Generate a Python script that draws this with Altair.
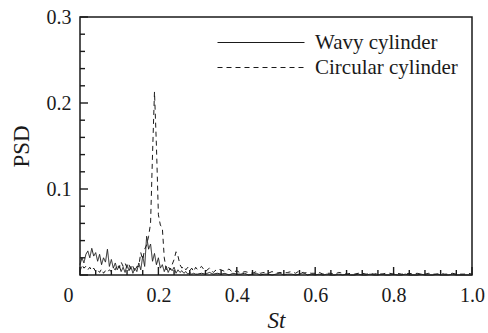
import altair as alt
import pandas as pd

# Strouhal number grid (frequency axis)
st_fine = [0.000, 0.005, 0.010, 0.015, 0.020, 0.025, 0.030, 0.035, 0.040, 0.045,
           0.050, 0.055, 0.060, 0.065, 0.070, 0.075, 0.080, 0.085, 0.090, 0.095,
           0.100, 0.105, 0.110, 0.115, 0.120, 0.125, 0.130, 0.135, 0.140, 0.145,
           0.150, 0.155, 0.160, 0.165, 0.170, 0.175, 0.180, 0.185, 0.190, 0.195,
           0.200, 0.205, 0.210, 0.215, 0.220, 0.225, 0.230, 0.235, 0.240, 0.245,
           0.250, 0.255, 0.260, 0.265, 0.270, 0.275, 0.280, 0.285, 0.290, 0.295,
           0.300]
st_coarse = [0.31, 0.32, 0.33, 0.34, 0.35, 0.36, 0.37, 0.38, 0.39, 0.40,
             0.41, 0.42, 0.43, 0.44, 0.45, 0.46, 0.47, 0.48, 0.49, 0.50,
             0.51, 0.52, 0.53, 0.54, 0.55, 0.56, 0.57, 0.58, 0.59, 0.60,
             0.61, 0.62, 0.63, 0.64, 0.65, 0.66, 0.67, 0.68, 0.69, 0.70,
             0.71, 0.72, 0.73, 0.74, 0.75, 0.76, 0.77, 0.78, 0.79, 0.80,
             0.81, 0.82, 0.83, 0.84, 0.85, 0.86, 0.87, 0.88, 0.89, 0.90,
             0.91, 0.92, 0.93, 0.94, 0.95, 0.96, 0.97, 0.98, 0.99, 1.00]

wavy_fine = [0.012, 0.020, 0.014, 0.024, 0.028, 0.020, 0.031, 0.022, 0.026, 0.016,
             0.024, 0.012, 0.020, 0.015, 0.030, 0.010, 0.018, 0.008, 0.014, 0.006,
             0.011, 0.004, 0.009, 0.003, 0.012, 0.005, 0.010, 0.002, 0.008, 0.004,
             0.014, 0.006, 0.022, 0.010, 0.045, 0.030, 0.036, 0.016, 0.025, 0.012,
             0.020, 0.008, 0.012, 0.004, 0.010, 0.003, 0.008, 0.005, 0.009, 0.002,
             0.006, 0.003, 0.005, 0.002, 0.004, 0.001, 0.003, 0.001, 0.002, 0.001,
             0.001]
wavy_coarse = [0.002, 0.001, 0.003, 0.001, 0.002, 0.001, 0.002, 0.000, 0.002, 0.001,
               0.001, 0.002, 0.000, 0.001, 0.002, 0.000, 0.001, 0.001, 0.000, 0.001,
               0.002, 0.000, 0.001, 0.001, 0.000, 0.001, 0.003, 0.000, 0.001, 0.000,
               0.001, 0.000, 0.001, 0.000, 0.000, 0.001, 0.000, 0.001, 0.000, 0.000,
               0.001, 0.000, 0.000, 0.001, 0.000, 0.000, 0.001, 0.000, 0.000, 0.001,
               0.000, 0.000, 0.001, 0.000, 0.000, 0.000, 0.001, 0.000, 0.000, 0.000,
               0.001, 0.000, 0.000, 0.000, 0.001, 0.000, 0.000, 0.000, 0.000, 0.000]

circ_fine = [0.004, 0.012, 0.008, 0.010, 0.006, 0.009, 0.005, 0.008, 0.004, 0.006,
             0.003, 0.007, 0.002, 0.005, 0.003, 0.006, 0.004, 0.008, 0.006, 0.012,
             0.008, 0.015, 0.010, 0.014, 0.008, 0.012, 0.006, 0.010, 0.004, 0.010,
             0.010, 0.026, 0.018, 0.030, 0.035, 0.045, 0.060, 0.140, 0.213, 0.150,
             0.070, 0.058, 0.055, 0.020, 0.006, 0.010, 0.006, 0.012, 0.018, 0.027,
             0.022, 0.012, 0.008, 0.010, 0.006, 0.009, 0.005, 0.008, 0.004, 0.009,
             0.006]
circ_coarse = [0.010, 0.004, 0.008, 0.003, 0.007, 0.006, 0.004, 0.007, 0.003, 0.005,
               0.002, 0.004, 0.003, 0.002, 0.004, 0.002, 0.003, 0.002, 0.004, 0.002,
               0.003, 0.002, 0.003, 0.004, 0.002, 0.005, 0.002, 0.003, 0.002, 0.002,
               0.003, 0.001, 0.002, 0.002, 0.001, 0.003, 0.002, 0.001, 0.002, 0.001,
               0.002, 0.002, 0.001, 0.002, 0.001, 0.002, 0.001, 0.002, 0.002, 0.001,
               0.002, 0.001, 0.001, 0.002, 0.001, 0.002, 0.001, 0.001, 0.002, 0.001,
               0.001, 0.002, 0.001, 0.001, 0.002, 0.001, 0.001, 0.001, 0.002, 0.001]

series_names = ["Wavy cylinder", "Circular cylinder"]
x_major = [0, 0.2, 0.4, 0.6, 0.8, 1.0]
x_minor = [0.04, 0.08, 0.12, 0.16, 0.24, 0.28, 0.32, 0.36, 0.44, 0.48, 0.52, 0.56,
           0.64, 0.68, 0.72, 0.76, 0.84, 0.88, 0.92, 0.96]
y_major = [0, 0.1, 0.2, 0.3]
y_minor = [0.02, 0.04, 0.06, 0.08, 0.12, 0.14, 0.16, 0.18, 0.22, 0.24, 0.26, 0.28]

st_all = st_fine + st_coarse
df = pd.DataFrame({
    "St": st_all + st_all,
    "PSD": wavy_fine + wavy_coarse + circ_fine + circ_coarse,
    "case": [series_names[0]] * len(st_all) + [series_names[1]] * len(st_all),
    "order": list(range(len(st_all))) * 2,
})

W, H = 392, 258
MAJOR, MINOR = 8, 5
FONT = "Liberation Serif"
INK = "#1a1a1a"
xscale = alt.Scale(domain=[0, 1], nice=False, zero=False)
yscale = alt.Scale(domain=[0, 0.3], nice=False, zero=False)

main = alt.Chart(df).mark_line(color=INK, strokeWidth=1).encode(
    x=alt.X("St:Q", scale=xscale, axis=alt.Axis(
        values=x_major, title="St", titleFontStyle="italic", titleFont=FONT,
        titleFontSize=23, titleFontWeight="normal", titleColor=INK, titlePadding=4,
        labelFont=FONT, labelFontSize=20, labelColor=INK, labelPadding=10,
        labelExpr="datum.value == 0 ? '0' : format(datum.value, '.1f')",
        labelOffset=alt.condition("datum.value == 0", alt.value(-12), alt.value(0)),
        labelFlush=False, labelOverlap=False,
        domain=False, grid=False, ticks=False)),
    y=alt.Y("PSD:Q", scale=yscale, axis=alt.Axis(
        values=y_major, title="PSD", titleFont=FONT, titleFontSize=23,
        titleFontWeight="normal", titleColor=INK, titlePadding=13,
        labelFont=FONT, labelFontSize=20, labelColor=INK, labelPadding=9,
        labelExpr="datum.value == 0 ? '' : format(datum.value, '.1f')",
        labelFlush=False, labelOverlap=False,
        domain=False, grid=False, ticks=False)),
    strokeDash=alt.StrokeDash("case:N", scale=alt.Scale(domain=series_names, range=[[1, 0], [5, 4]]),
                              legend=alt.Legend(
                                  title=None, orient="none", legendX=132, legendY=15,
                                  symbolType="M-1,0L16.4,0", symbolSize=100,
                                  symbolStrokeColor=INK, symbolStrokeWidth=1.2,
                                  labelFont=FONT, labelFontSize=21, labelColor=INK,
                                  labelOffset=82, rowPadding=3, padding=0)),
    order="order:Q",
)

def xticks(vals, size):
    return alt.Chart(pd.DataFrame({"v": vals})).mark_rule(color=INK, strokeWidth=1.4).encode(
        x=alt.X("v:Q", scale=xscale, axis=None),
        y=alt.value(H), y2=alt.value(H - size))

def yticks(vals, size):
    return alt.Chart(pd.DataFrame({"v": vals})).mark_rule(color=INK, strokeWidth=1.4).encode(
        y=alt.Y("v:Q", scale=yscale, axis=None),
        x=alt.value(0), x2=alt.value(size))

chart = alt.layer(
    main,
    xticks(x_major, MAJOR), xticks(x_minor, MINOR),
    yticks(y_major, MAJOR), yticks(y_minor, MINOR),
).resolve_axis(x="independent", y="independent").properties(
    width=W, height=H,
    autosize=alt.AutoSizeParams(type="none"),
    padding={"left": 80, "top": 17, "right": 16, "bottom": 58},
    background="white",
).configure_view(stroke=INK, strokeWidth=1.5)

chart.save("out.html", embed_options={"renderer": "svg", "actions": False})
